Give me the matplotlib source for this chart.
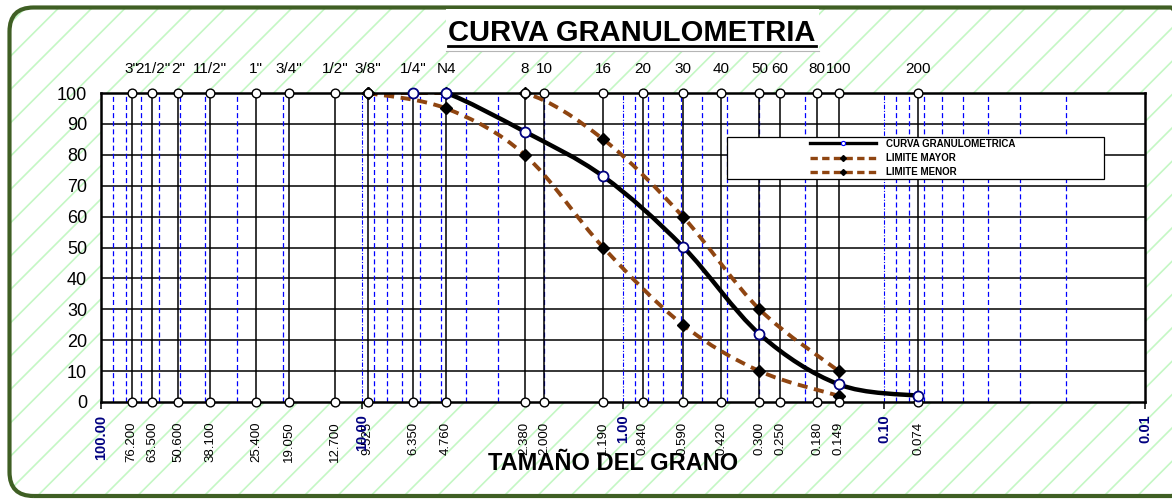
import numpy as np
import matplotlib
matplotlib.use("Agg")
import matplotlib.pyplot as plt
from matplotlib.path import Path
from matplotlib.patches import PathPatch, FancyBboxPatch, Rectangle
from matplotlib.lines import Line2D
from matplotlib.transforms import IdentityTransform
from matplotlib.ticker import NullLocator

plt.rcParams['font.family'] = ['Liberation Sans', 'DejaVu Sans']

# ---------------- data ----------------
sieve_sizes = [76.2, 63.5, 50.6, 38.1, 25.4, 19.05, 12.7, 9.525, 6.35, 4.76,
               2.38, 2.0, 1.19, 0.84, 0.59, 0.42, 0.30, 0.25, 0.18, 0.149, 0.074]
sieve_names = ['3"', '21/2"', '2"', '11/2"', '1"', '3/4"', '1/2"', '3/8"', '1/4"', 'N4',
               '8', '10', '16', '20', '30', '40', '50', '60', '80', '100', '200']
sieve_labels = ['76.200', '63.500', '50.600', '38.100', '25.400', '19.050', '12.700',
                '9.525', '6.350', '4.760', '2.380', '2.000', '1.190', '0.840', '0.590',
                '0.420', '0.300', '0.250', '0.180', '0.149', '0.074']
decades = [100, 10, 1, 0.1, 0.01]
decade_labels = ['100.00', '10.00', '1.00', '0.10', '0.01']

curva_x = [6.35, 4.76, 2.38, 1.19, 0.59, 0.30, 0.149, 0.074]
curva_y = [100, 100, 87.5, 73, 50.3, 22, 5.7, 2.0]
mayor_x = [9.525, 4.76, 2.38, 1.19, 0.59, 0.30, 0.149]
mayor_y = [100, 100, 100, 85, 60, 30, 10]
menor_x = [9.525, 4.76, 2.38, 1.19, 0.59, 0.30, 0.149]
menor_y = [100, 95, 80, 50, 25, 10, 2]

legend_labels = ['CURVA GRANULOMETRICA', 'LIMITE MAYOR', 'LIMITE MENOR']
title = 'CURVA GRANULOMETRIA'
xlabel = 'TAMAÑO DEL GRANO'

BROWN = '#8f4511'
NAVY = '#000080'


def smooth_path(xs, ys):
    """Excel-like smoothed line: cubic Bezier (Catmull-Rom) in log-x display space."""
    lx = np.log10(np.asarray(xs, float))
    yy = np.asarray(ys, float)
    P = np.column_stack([lx, yy])
    n = len(P)
    verts = [P[0]]
    codes = [Path.MOVETO]
    for i in range(n - 1):
        p0 = P[i - 1] if i > 0 else P[i]
        p1 = P[i]
        p2 = P[i + 1]
        p3 = P[i + 2] if i + 2 < n else P[i + 1]
        c1 = p1 + (p2 - p0) / 6.0
        c2 = p2 - (p3 - p1) / 6.0
        verts += [c1, c2, p2]
        codes += [Path.CURVE4] * 3
    verts = np.array(verts)
    verts[:, 0] = 10 ** verts[:, 0]
    return Path(verts, codes)


fig = plt.figure(figsize=(11.72, 5.0), dpi=100)
fig.patch.set_facecolor('white')

# background with hatch and rounded border (pixel coords)
plt.rcParams['hatch.linewidth'] = 1.2
bg = FancyBboxPatch((9.5, 4), 1185, 488.5, boxstyle='round,pad=0,rounding_size=24',
                    transform=IdentityTransform(), facecolor='white',
                    edgecolor='#c4f7c4', linewidth=0, hatch='/', zorder=0)
fig.add_artist(bg)
border = FancyBboxPatch((9.5, 4), 1185, 488.5, boxstyle='round,pad=0,rounding_size=24',
                        transform=IdentityTransform(), facecolor='none',
                        edgecolor='#3f5f24', linewidth=3, zorder=1)
fig.add_artist(border)

# title box (white, grey bottom edge)
fig.add_artist(Rectangle((446, 449), 373, 42, transform=IdentityTransform(),
                         facecolor='white', edgecolor='none', zorder=1))
fig.add_artist(Line2D([446, 819], [449, 449], transform=IdentityTransform(),
                      color='#b5b5b5', lw=0.8, zorder=1))

ax = fig.add_axes([101 / 1172, 0.196, 1044 / 1172, 0.618])
ax.set_facecolor('white')
ax.set_xscale('log')
ax.set_xlim(100, 0.01)
ax.set_ylim(0, 100)

# horizontal grid
for yv in range(10, 100, 10):
    ax.axhline(yv, color='black', lw=1.1, zorder=1)

# blue dashed minor verticals
for d in [10, 1, 0.1, 0.01]:
    for k in range(2, 10):
        ax.axvline(k * d, color='#0000ff', lw=0.9, ls=(0, (4, 2.5)), zorder=1)
for d in [10, 1, 0.1]:
    ax.axvline(d, color='#0000ff', lw=0.8, ls=(0, (4, 1.5, 1, 1.5)), zorder=1)

# sieve verticals
for s in sieve_sizes:
    ax.plot([s, s], [0, 100], color='black', lw=1.1, zorder=2)

# limit curves
ax.add_patch(PathPatch(smooth_path(mayor_x, mayor_y), fill=False, edgecolor=BROWN,
                       lw=2.8, ls=(0, (2.6, 1.7)), zorder=3))
ax.add_patch(PathPatch(smooth_path(menor_x, menor_y), fill=False, edgecolor=BROWN,
                       lw=2.8, ls=(0, (2.6, 1.7)), zorder=3))
# main curve
ax.add_patch(PathPatch(smooth_path(curva_x, curva_y), fill=False, edgecolor='black',
                       lw=3.2, zorder=4, capstyle='round'))

# limit markers
ax.plot(mayor_x, mayor_y, ls='none', marker='D', ms=6.5, color='black', zorder=5, clip_on=False)
ax.plot(menor_x, menor_y, ls='none', marker='D', ms=6.5, color='black', zorder=5, clip_on=False)

# sieve circles at 0 and 100
ax.plot(sieve_sizes, [100] * len(sieve_sizes), ls='none', marker='o', ms=6.3,
        mfc='white', mec='black', mew=1.0, zorder=6, clip_on=False)
ax.plot(sieve_sizes, [0] * len(sieve_sizes), ls='none', marker='o', ms=6.3,
        mfc='white', mec='black', mew=1.0, zorder=6, clip_on=False)

# curve markers
ax.plot(curva_x, curva_y, ls='none', marker='o', ms=7.2, mfc='white', mec=NAVY,
        mew=1.3, zorder=7, clip_on=False)

# spines
for sp in ax.spines.values():
    sp.set_linewidth(1.8)
    sp.set_color('black')
    sp.set_zorder(5)

# y ticks
ax.set_yticks(range(0, 101, 10))
ax.tick_params(axis='y', length=0, pad=10, labelsize=13)

# bottom ticks
ax.set_xticks(sieve_sizes)
ax.set_xticklabels(sieve_labels, rotation=90, fontsize=9.5)
ax.set_xticks(decades, minor=True)
ax.set_xticklabels(decade_labels, minor=True, rotation=90, fontsize=10.5,
                   fontweight='bold', color=NAVY)
ax.tick_params(axis='x', which='major', length=0, pad=14)
ax.tick_params(axis='x', which='minor', length=5, width=1.1, direction='out', pad=4)

# top ticks
sec = ax.secondary_xaxis('top')
sec.set_xticks(sieve_sizes)
sec.set_xticklabels(sieve_names, fontsize=11)
sec.xaxis.set_minor_locator(NullLocator())
sec.tick_params(axis='x', length=0, pad=12)
sec.spines['top'].set_visible(False)

# legend
ax.add_patch(Rectangle((0.5996, 0.7217), 0.3611, 0.1359, transform=ax.transAxes,
                       facecolor='white', edgecolor='black', lw=0.9, zorder=8))
handles = [
    Line2D([], [], color='black', lw=2.4, marker='o', ms=3, mfc='white', mec='blue', mew=0.8),
    Line2D([], [], color=BROWN, lw=2.4, ls=(0, (2.2, 1.3)), marker='D', ms=3,
           mfc='black', mec='black'),
    Line2D([], [], color=BROWN, lw=2.4, ls=(0, (2.2, 1.3)), marker='D', ms=3,
           mfc='black', mec='black'),
]
leg = ax.legend(handles, legend_labels, loc='center left', bbox_to_anchor=(0.679, 0.7896),
                frameon=False, borderpad=0, borderaxespad=0, handlelength=6.8,
                handletextpad=1.0, labelspacing=0.45, prop={'weight': 'bold', 'size': 7})
leg.set_zorder(9)

# title and x label
t = fig.text(632 / 1172, 1 - 33 / 500, title, ha='center', va='center',
             fontsize=21, fontweight='bold', zorder=3)
fig.text(613 / 1172, 1 - 463 / 500, xlabel, ha='center', va='center',
         fontsize=17, fontweight='bold', zorder=3)

fig.canvas.draw()
bb = t.get_window_extent()
fig.add_artist(Line2D([bb.x0, bb.x1], [bb.y0 + 1, bb.y0 + 1], transform=IdentityTransform(),
                      color='black', lw=2, zorder=3))

fig.savefig('out.png', dpi=100)
